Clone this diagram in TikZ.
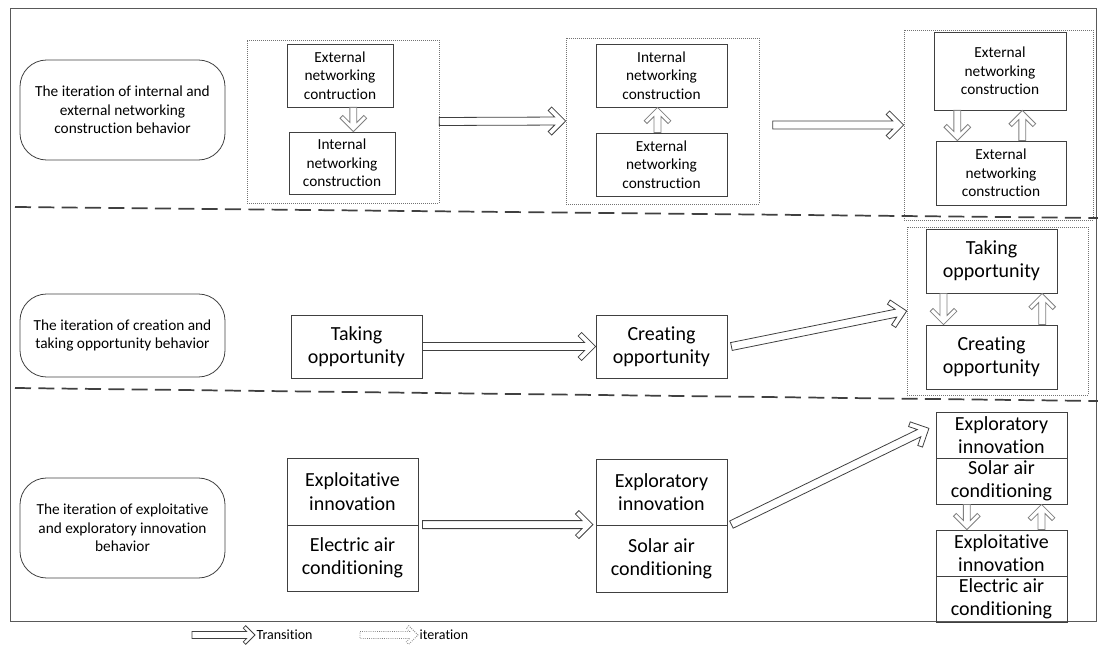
\documentclass[tikz,border=0pt]{standalone}
\usepackage{fontspec}
\setmainfont{Carlito}[Ligatures=NoCommon]
\usetikzlibrary{calc}

% dimensions of the hollow block arrows: shaft half width, head half width, arm thickness
\newcommand\arrowdims[3]{%
  \pgfmathsetlengthmacro\arShaft{#1}%
  \pgfmathsetlengthmacro\arHead{#2}%
  \pgfmathsetlengthmacro\arNotch{1.414*#3+#1}%
  \pgfmathsetlengthmacro\arBack{#2+0.707*#3}%
  \pgfmathsetlengthmacro\arSide{#2-0.707*#3}}

\tikzset{
  hollow/.style={to path={
    ($(\tikztostart)!\arShaft!90:(\tikztotarget)$)
    -- ($(\tikztotarget)!\arNotch!(\tikztostart)!\arShaft!-90:(\tikztostart)$)
    -- ($(\tikztotarget)!\arBack!(\tikztostart)!\arSide!-90:(\tikztostart)$)
    -- ($(\tikztotarget)!\arHead!(\tikztostart)!\arHead!-90:(\tikztostart)$)
    -- (\tikztotarget)
    -- ($(\tikztotarget)!\arHead!(\tikztostart)!\arHead!90:(\tikztostart)$)
    -- ($(\tikztotarget)!\arBack!(\tikztostart)!\arSide!90:(\tikztostart)$)
    -- ($(\tikztotarget)!\arNotch!(\tikztostart)!\arShaft!90:(\tikztostart)$)
    -- ($(\tikztostart)!\arShaft!-90:(\tikztotarget)$)
    -- cycle}},
  transition/.style={hollow, draw=black!75, fill=white, line width=0.6pt,
    /utils/exec={\arrowdims{3pt}{10.5pt}{3.7pt}}},
  iteration/.style={hollow, draw=black!50, fill=white, line width=0.6pt,
    /utils/exec={\arrowdims{2.6pt}{10pt}{3pt}}},
  small/.style={/utils/exec={\arrowdims{2.6pt}{7pt}{2.6pt}}},
  wh/.style 2 args={minimum width=#1*0.75pt, minimum height=#2*0.75pt},
  box/.style={draw=black!75, line width=0.6pt, align=center, inner sep=1pt,
    font=\fontsize{11.5}{14}\selectfont},
  big/.style={font=\fontsize{15}{17.5}\selectfont},
  part/.style={box, big, inner ysep=0pt},
  label/.style={draw=black!75, line width=0.6pt, rounded corners=20pt,
    align=center, font=\fontsize{11.5}{14}\selectfont},
  group/.style={draw=black!55, densely dotted, line width=0.5pt},
  sep/.style={draw=black!75, line width=1.3pt, dash pattern=on 12pt off 5.5pt},
  legend/.style={anchor=west, inner sep=1pt, font=\fontsize{10.5}{12}\selectfont}
}

\begin{document}
\begin{tikzpicture}[x=0.75pt,y=-0.75pt]
  \useasboundingbox (0,0) rectangle (1098,659);
  \draw[black!65, line width=0.6pt] (10,8) rectangle (1096,621);

  % behaviours
  \node[label, wh={205}{100}] (lab1) at (122.5,110)
    {The iteration of internal and\\external networking\\construction behavior};
  \node[label, wh={205}{83}] (lab2) at (122.5,335.5)
    {The iteration of creation and\\taking opportunity behavior};
  \node[label, wh={205}{100}] (lab3) at (122.5,528)
    {The iteration of exploitative\\and exploratory innovation\\behavior};

  % dotted groups
  \node[group, wh={192}{163}] (g1) at (343,121.5) {};
  \node[group, wh={193}{166}] (g2) at (662.5,121) {};
  \node[group, wh={189}{190}] (g3) at (998.5,125) {};
  \node[group, wh={181}{168}] (g4) at (997.5,311) {};

  % networking
  \node[box, wh={106}{63}] (ext1) at (340,75.5) {External\\networking\\contruction};
  \node[box, wh={106}{62}] (int1) at (342,163) {Internal\\networking\\construction};
  \node[box, wh={131}{63}] (int2) at (661.5,75.5) {Internal\\networking\\construction};
  \node[box, wh={131}{63}] (ext2) at (661.5,164.5) {External\\networking\\construction};
  \node[box, wh={132}{78}] (ext3) at (1000,71) {External\\networking\\construction};
  \node[box, wh={130}{64}] (ext4) at (1001,173) {External\\networking\\construction};

  % opportunity
  \node[box, big, wh={131}{63}] (take1) at (356.5,346.5) {Taking\\opportunity};
  \node[box, big, wh={131}{63}] (create1) at (661.5,346.5) {Creating\\opportunity};
  \node[box, big, wh={131}{64}] (take2) at (991.5,261) {Taking\\opportunity};
  \node[box, big, wh={131}{64}] (create2) at (991.5,357) {Creating\\opportunity};

  % innovation
  \node[part, wh={131}{67}] (explt) at (352.5,491.5) {Exploitative\\innovation};
  \node[part, wh={131}{66}] (elec) at (352.5,558) {Electric air\\conditioning};
  \node[part, wh={131}{66}] (explr) at (661.5,492) {Exploratory\\innovation};
  \node[part, wh={131}{67}] (solar) at (661.5,558.5) {Solar air\\conditioning};
  \node[part, wh={131}{46}] (explr2) at (1001.5,435) {Exploratory\\innovation};
  \node[part, wh={131}{46}] (solar2) at (1001.5,481) {Solar air\\conditioning};
  \node[part, wh={131}{46}] (explt2) at (1001.5,553) {Exploitative\\innovation};
  \node[part, wh={131}{46}] (elec2) at (1001.5,599) {Electric air\\conditioning};

  \draw[sep] (15,207) -- (1098,218);
  \draw[sep] (15,388) -- (1098,401);

  % transitions
  \draw[transition] (g1.east) to (g2.west);
  \draw[transition] ([xshift=10pt]g2.east |- g3.west) to (g3.west);
  \draw[transition] (take1.east) to (create1.west);
  \draw[transition] ([xshift=3pt]create1.east) to (g4.west);
  \draw[transition] ([xshift=3pt]elec.north east) to ([xshift=-2pt]solar.north west);
  \draw[transition] ([xshift=3pt]solar.north east) to ([xshift=-5pt,yshift=5pt]explr2.west);

  % iterations
  \draw[iteration] ([xshift=10pt]ext1.south) to ([xshift=10pt]ext1.south |- int1.north);
  \draw[iteration] ([xshift=-3pt]ext2.north) to ([xshift=-3pt]int2.south);
  \draw[iteration] ([xshift=-32pt]ext3.south) to ([xshift=-32pt]ext3.south |- ext4.north);
  \draw[iteration] ([xshift=16pt]ext4.north) to ([xshift=16pt]ext4.north |- ext3.south);
  \draw[iteration] ([xshift=-36pt]take2.south) to ([xshift=-36pt]create2.north);
  \draw[iteration] ([xshift=38pt]create2.north) to ([xshift=38pt]take2.south);
  \draw[iteration] ([xshift=-26pt]solar2.south) to ([xshift=-26pt]explt2.north);
  \draw[iteration] ([xshift=30pt]explt2.north) to ([xshift=30pt]solar2.south);

  % legend
  \node[legend] (ltrans) at (255,635) {Transition};
  \node[legend] (liter) at (418,635) {iteration};
  \coordinate (ltrans0) at (192,635);
  \coordinate (liter0) at (360,635);
  \draw[transition, small] (ltrans0) to (ltrans.west);
  \draw[iteration, small, densely dotted] (liter0) to (liter.west);
\end{tikzpicture}
\end{document}
